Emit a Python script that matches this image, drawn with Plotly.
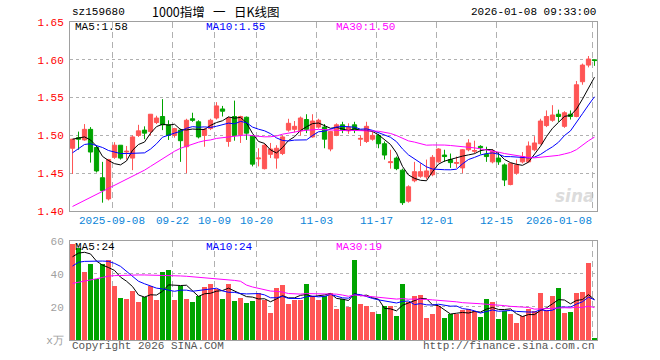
import plotly.graph_objects as go
import pandas as pd

# ---------------- data ----------------
dates = [
    "2025-08-28", "2025-08-29", "2025-09-01", "2025-09-02", "2025-09-03", "2025-09-04", "2025-09-05",
    "2025-09-08", "2025-09-09", "2025-09-10", "2025-09-11", "2025-09-12",
    "2025-09-15", "2025-09-16", "2025-09-17", "2025-09-18", "2025-09-19",
    "2025-09-22", "2025-09-23", "2025-09-24", "2025-09-25", "2025-09-26",
    "2025-09-29", "2025-09-30", "2025-10-09", "2025-10-10",
    "2025-10-13", "2025-10-14", "2025-10-15", "2025-10-16", "2025-10-17",
    "2025-10-20", "2025-10-21", "2025-10-22", "2025-10-23", "2025-10-24",
    "2025-10-27", "2025-10-28", "2025-10-29", "2025-10-30", "2025-10-31",
    "2025-11-03", "2025-11-04", "2025-11-05", "2025-11-06", "2025-11-07",
    "2025-11-10", "2025-11-11", "2025-11-12", "2025-11-13", "2025-11-14",
    "2025-11-17", "2025-11-18", "2025-11-19", "2025-11-20", "2025-11-21",
    "2025-11-24", "2025-11-25", "2025-11-26", "2025-11-27", "2025-11-28",
    "2025-12-01", "2025-12-02", "2025-12-03", "2025-12-04", "2025-12-05",
    "2025-12-08", "2025-12-09", "2025-12-10", "2025-12-11", "2025-12-12",
    "2025-12-15", "2025-12-16", "2025-12-17", "2025-12-18", "2025-12-19",
    "2025-12-22", "2025-12-23", "2025-12-24", "2025-12-25", "2025-12-26",
    "2025-12-29", "2025-12-30", "2025-12-31",
    "2026-01-05", "2026-01-06", "2026-01-07", "2026-01-08",
]

opens = [
    1.483, 1.497, 1.494, 1.508, 1.484, 1.444, 1.416, 1.471, 1.487, 1.478,
    1.470, 1.500, 1.507, 1.505, 1.517, 1.525, 1.514, 1.500, 1.507, 1.485,
    1.522, 1.518, 1.500, 1.509, 1.523, 1.535, 1.492, 1.525, 1.501, 1.524,
    1.499, 1.469, 1.456, 1.475, 1.470, 1.476, 1.507, 1.508, 1.506, 1.521,
    1.498, 1.511, 1.511, 1.482, 1.500, 1.514, 1.506, 1.514, 1.495, 1.492,
    1.495, 1.500, 1.489, 1.464, 1.470, 1.454, 1.413, 1.440, 1.446, 1.445,
    1.448, 1.465, 1.474, 1.468, 1.463, 1.457, 1.481, 1.479, 1.4855, 1.475,
    1.465, 1.470, 1.461, 1.435, 1.450, 1.465, 1.465, 1.481, 1.489, 1.513,
    1.520, 1.528, 1.512, 1.528, 1.525, 1.571, 1.593, 1.600,
]
highs = [
    1.495, 1.505, 1.515, 1.511, 1.486, 1.465, 1.469, 1.491, 1.487, 1.486,
    1.500, 1.514, 1.512, 1.528, 1.526, 1.548, 1.520, 1.510, 1.509, 1.522,
    1.530, 1.520, 1.510, 1.522, 1.544, 1.539, 1.525, 1.546, 1.526, 1.525,
    1.500, 1.483, 1.489, 1.490, 1.487, 1.500, 1.522, 1.519, 1.525, 1.528,
    1.528, 1.522, 1.515, 1.506, 1.516, 1.518, 1.516, 1.518, 1.500, 1.518,
    1.505, 1.502, 1.492, 1.481, 1.472, 1.456, 1.434, 1.465, 1.463, 1.468,
    1.474, 1.483, 1.481, 1.476, 1.472, 1.482, 1.495, 1.493, 1.487, 1.485,
    1.482, 1.478, 1.463, 1.464, 1.468, 1.478, 1.492, 1.499, 1.522, 1.533,
    1.540, 1.534, 1.532, 1.533, 1.572, 1.595, 1.605, 1.600,
]
lows = [
    1.449, 1.481, 1.493, 1.464, 1.451, 1.411, 1.414, 1.469, 1.468, 1.468,
    1.454, 1.498, 1.495, 1.500, 1.515, 1.507, 1.494, 1.497, 1.465, 1.450,
    1.518, 1.496, 1.485, 1.507, 1.521, 1.525, 1.485, 1.493, 1.490, 1.494,
    1.459, 1.459, 1.455, 1.470, 1.456, 1.474, 1.505, 1.504, 1.500, 1.503,
    1.497, 1.509, 1.483, 1.479, 1.499, 1.503, 1.502, 1.503, 1.486, 1.490,
    1.493, 1.483, 1.468, 1.456, 1.454, 1.408, 1.411, 1.438, 1.444, 1.442,
    1.446, 1.464, 1.465, 1.457, 1.457, 1.450, 1.479, 1.476, 1.475, 1.465,
    1.463, 1.461, 1.433, 1.434, 1.448, 1.463, 1.464, 1.479, 1.488, 1.511,
    1.518, 1.518, 1.510, 1.521, 1.524, 1.567, 1.590, 1.592,
]
closes = [
    1.495, 1.495, 1.508, 1.478, 1.453, 1.427, 1.468, 1.487, 1.470, 1.479,
    1.498, 1.506, 1.503, 1.528, 1.523, 1.514, 1.500, 1.509, 1.493, 1.520,
    1.520, 1.498, 1.508, 1.520, 1.539, 1.532, 1.523, 1.500, 1.525, 1.503,
    1.462, 1.470, 1.487, 1.482, 1.483, 1.498, 1.516, 1.512, 1.523, 1.508,
    1.519, 1.520, 1.495, 1.505, 1.514, 1.507, 1.511, 1.507, 1.496, 1.512,
    1.500, 1.489, 1.474, 1.465, 1.456, 1.411, 1.432, 1.452, 1.452, 1.453,
    1.471, 1.482, 1.472, 1.464, 1.464, 1.481, 1.490, 1.480, 1.484, 1.472,
    1.479, 1.465, 1.441, 1.463, 1.461, 1.472, 1.486, 1.490, 1.519, 1.525,
    1.527, 1.525, 1.530, 1.525, 1.567, 1.593, 1.601, 1.599,
]
# volume in 万 (10k)
volumes = [
    58.0, 55.8, 41.3, 45.9, 37.3, 45.9, 48.5, 32.6, 25.6, 25.0,
    29.8, 23.0, 26.2, 32.6, 24.2, 41.1, 42.5, 24.2, 32.6, 25.0,
    23.0, 27.0, 32.0, 34.2, 31.2, 25.0, 34.2, 23.6, 25.6, 22.6,
    23.6, 28.6, 24.2, 16.5, 31.4, 33.2, 22.0, 24.2, 24.2, 33.8,
    27.0, 24.2, 26.9, 28.8, 18.7, 24.8, 20.1, 48.3, 21.8, 20.5,
    16.9, 15.7, 20.5, 20.5, 14.5, 33.8, 23.2, 26.6, 27.6, 13.3,
    15.7, 20.5, 13.3, 15.7, 15.7, 18.1, 18.7, 17.9, 13.9, 24.8,
    23.0, 12.7, 17.7, 15.7, 10.3, 14.5, 18.7, 17.5, 28.4, 18.1,
    26.6, 31.4, 16.3, 16.9, 28.4, 29.0, 46.5, 1.2,
]

# moving-average values at the start of the window (history before the window)
ma5_head = [1.495, 1.497, 1.498, 1.494]
ma10_head = [1.477, 1.483, 1.488, 1.489, 1.487, 1.484, 1.480, 1.478, 1.476]
ma30_head = [1.406, 1.410, 1.414, 1.418, 1.422, 1.426, 1.429, 1.433, 1.437, 1.441,
             1.445, 1.449, 1.454, 1.459, 1.464, 1.469, 1.475, 1.479, 1.483, 1.486,
             1.489, 1.491, 1.493, 1.494, 1.496, 1.497, 1.498, 1.499, 1.499]
vma5_head = [50.3, 52.5, 53.0, 52.0]
vma10_head = [44.7, 47.0, 47.5, 47.7, 47.7, 47.7, 47.5, 46.3, 44.5]
vma30_head = [34.2, 34.8, 35.5, 36.3, 37.0, 37.8, 38.6, 38.9, 39.1, 39.2,
              39.3, 39.3, 39.3, 39.2, 39.1, 39.2, 39.3, 39.0, 38.7, 38.5,
              38.2, 38.0, 37.8, 37.5, 37.3, 37.0, 36.5, 36.0, 35.5]

tick_dates = ["2025-09-08", "2025-09-22", "2025-10-09", "2025-10-20", "2025-11-03",
              "2025-11-17", "2025-12-01", "2025-12-15", "2026-01-08"]
tick_labels = ["2025-09-08", "09-22", "10-09", "10-20", "11-03",
               "11-17", "12-01", "12-15", "2026-01-08"]

code = "sz159680"
title_parts = ["1000指增", "一", "日K线图"]
timestamp = "2026-01-08 09:33:00"

# ---------------- derived ----------------
idx = list(range(len(dates)))


def moving(values, n, head):
    s = pd.Series(values, dtype=float).rolling(n).mean()
    s.iloc[:len(head)] = head
    return s.tolist()


ma5 = moving(closes, 5, ma5_head)
ma10 = moving(closes, 10, ma10_head)
ma30 = moving(closes, 30, ma30_head)
vma5 = moving(volumes, 5, vma5_head)
vma10 = moving(volumes, 10, vma10_head)
vma30 = moving(volumes, 30, vma30_head)

RED = "#ff5555"
GREEN = "#00a400"
vol_colors = [RED if c >= o else GREEN for o, c in zip(opens, closes)]

MONO = "Liberation Mono, DejaVu Sans Mono, monospace"
CJK = "Noto Sans CJK SC, sans-serif"
W, H = 660, 360
PL, PR = 70, 597
tick_pos = [dates.index(d) - 0.35 for d in tick_dates]
xr = [-0.42, len(dates) - 1 + 0.42]

fig = go.Figure()
fig.add_trace(go.Candlestick(
    x=idx, open=opens, high=highs, low=lows, close=closes,
    increasing=dict(line=dict(color=RED, width=1), fillcolor=RED),
    decreasing=dict(line=dict(color=GREEN, width=1), fillcolor=GREEN),
    whiskerwidth=0, text=dates, hoverinfo="text+y", xaxis="x", yaxis="y",
))
for ys, col in [(ma5, "#000000"), (ma10, "#0000ff"), (ma30, "#ff00ff")]:
    fig.add_trace(go.Scatter(x=idx, y=ys, mode="lines", line=dict(color=col, width=1),
                             hoverinfo="skip", xaxis="x", yaxis="y"))

fig.add_trace(go.Bar(x=idx, y=volumes, marker=dict(color=vol_colors, line=dict(width=0)),
                     width=0.8, xaxis="x2", yaxis="y2", hovertext=dates))
for ys, col in [(vma5, "#000000"), (vma10, "#0000ff"), (vma30, "#ff00ff")]:
    fig.add_trace(go.Scatter(x=idx, y=ys, mode="lines", line=dict(color=col, width=1),
                             hoverinfo="skip", xaxis="x2", yaxis="y2"))

axis_common = dict(showline=True, mirror=True, linecolor="#a0a0a0", linewidth=1,
                   zeroline=False, ticks="", automargin=False)
xdom = [PL / W, PR / W]
fig.update_layout(
    width=W, height=H, margin=dict(l=0, r=0, t=0, b=0, pad=0, autoexpand=False),
    paper_bgcolor="white", plot_bgcolor="white", showlegend=False,
    boxgap=0.3, boxgroupgap=0.0, bargap=0,
    xaxis=dict(domain=xdom, range=xr, anchor="y", tickmode="array", tickvals=tick_pos,
               showticklabels=False, showgrid=True, gridcolor="#b0b0b0", gridwidth=1,
               griddash="6px,4px", rangeslider=dict(visible=False), **axis_common),
    yaxis=dict(domain=[1 - 211 / H, 1 - 22 / H], range=[1.40, 1.65], anchor="x",
               tickmode="linear", tick0=1.40, dtick=0.05, tickformat=".2f",
               tickfont=dict(family=MONO, size=11, color="#ff0000"),
               showgrid=True, gridcolor="#b0b0b0", griddash="dot", gridwidth=1,
               ticklabelstandoff=3, **axis_common),
    xaxis2=dict(domain=xdom, range=xr, anchor="y2", tickmode="array", tickvals=tick_pos,
                showticklabels=False, showgrid=True, gridcolor="#b0b0b0", gridwidth=1,
                griddash="6px,4px", **axis_common),
    yaxis2=dict(domain=[1 - 340 / H, 1 - 240.7 / H], range=[0, 60], anchor="x2",
                tickmode="array", tickvals=[0, 20, 40, 60], ticktext=["x万", "20", "40", "60"],
                tickfont=dict(family=MONO, size=11, color="#a0a0a0"),
                showgrid=True, gridcolor="#b0b0b0", griddash="dot", gridwidth=1,
                ticklabelstandoff=3, **axis_common),
)

ann = []


def text(x, y, s, color="#000", size=11, family=MONO, xanchor="left", xref="paper", yref="paper"):
    ann.append(dict(x=x, y=y, xref=xref, yref=yref, text=s, showarrow=False,
                    xanchor=xanchor, yanchor="middle",
                    font=dict(family=family, size=size, color=color)))


text(PL / W, 1 - 12.5 / H, code, size=11)
# title split in three pieces to keep the wide spacing of the original
text(150 / W, 1 - 12 / H, title_parts[0], size=12.5, family=CJK)
text(211 / W, 1 - 12 / H, title_parts[1], size=12.5, family=CJK)
text(232 / W, 1 - 12 / H, title_parts[2], size=12.5, family=CJK)
text(598 / W, 1 - 12.5 / H, timestamp, size=11, xanchor="right")

text(73 / W, 1 - 27.5 / H, f"MA5:{ma5[-1]:.2f}", "#000000")
text(204 / W, 1 - 27.5 / H, f"MA10:{ma10[-1]:.2f}", "#0000ff")
text(334 / W, 1 - 27.5 / H, f"MA30:{ma30[-1]:.2f}", "#ff00ff")

text(73 / W, 1 - 247 / H, f"MA5:{int(vma5[-1])}", "#000000")
text(204 / W, 1 - 247 / H, f"MA10:{int(vma10[-1])}", "#0000ff")
text(334 / W, 1 - 247 / H, f"MA30:{int(vma30[-1])}", "#ff00ff")

for i, (p, lab) in enumerate(zip(tick_pos, tick_labels)):
    last = i == len(tick_pos) - 1
    text(p + (0.3 if last else 0.0), 1 - 220.5 / H, lab, "#0a84d8", 11,
         xanchor="right" if last else "center", xref="x")

text(PL / W, 1 - 346 / H, "Copyright 2026 SINA.COM", "#555555", 11)
text(PR / W, 1 - 346 / H, "http://finance.sina.com.cn", "#555555", 11, xanchor="right")

# sina watermark
ann.append(dict(x=597 / W, y=1 - 196 / H, xref="paper", yref="paper", text="<b><i>sina</i></b>",
                showarrow=False, xanchor="right", yanchor="middle",
                font=dict(family="DejaVu Sans, sans-serif", size=17, color="rgba(190,190,190,0.55)")))

fig.update_layout(annotations=ann)
fig.write_html("out.html", config={"displayModeBar": False},
               post_script="document.body.style.margin='0';document.body.style.overflow='hidden';")
